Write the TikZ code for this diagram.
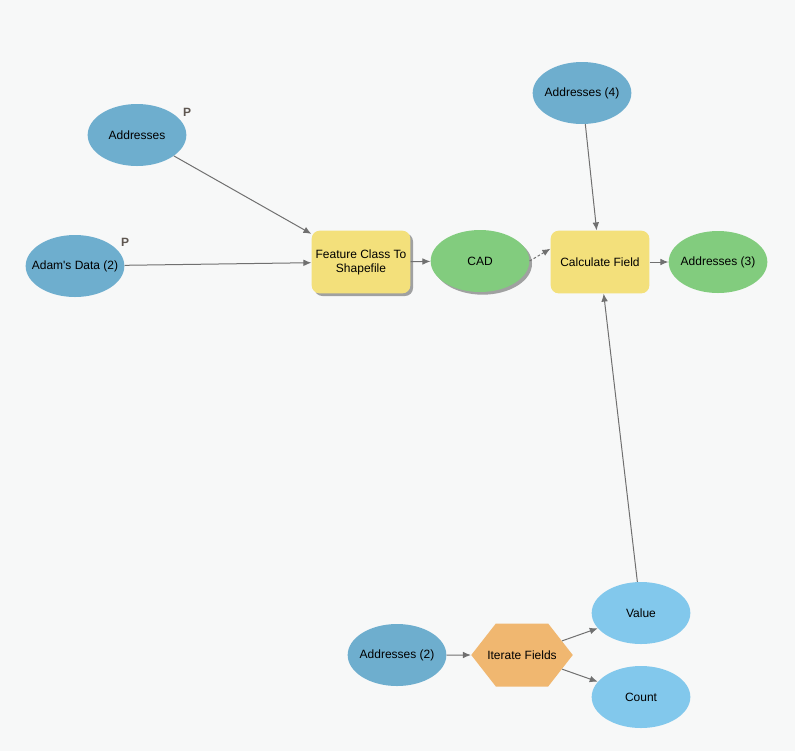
\documentclass[tikz,border=0pt]{standalone}
\usepackage{fontspec}
\setmainfont{Liberation Sans}[Ligatures=TeXOff]
\usetikzlibrary{arrows.meta,shapes.geometric,shapes.symbols,shadows}
\definecolor{bg}{HTML}{F7F8F8}
\definecolor{datablue}{HTML}{6EAECE}
\definecolor{varblue}{HTML}{82C8EC}
\definecolor{outgreen}{HTML}{82CC7E}
\definecolor{toolyellow}{HTML}{F3E07B}
\definecolor{iterorange}{HTML}{F0B770}
\definecolor{linegray}{HTML}{707070}
\definecolor{pgray}{HTML}{5E5650}
\begin{document}
\begin{tikzpicture}[x=0.75pt,y=-0.75pt,>={Latex[length=6pt,width=5pt]},
	font=\fontsize{9}{10.5}\selectfont,
	data/.style={ellipse,fill=#1,minimum width=74pt,minimum height=46.5pt,inner ysep=0pt,inner xsep=-8pt},
	tool/.style={rectangle,rounded corners=6pt,fill=toolyellow,minimum width=74pt,minimum height=47pt,inner sep=1pt,align=center},
	dropped/.style={drop shadow={shadow xshift=2pt,shadow yshift=-2pt,fill=black,opacity=0.35}},
	link/.style={->,draw=linegray,line width=0.75pt},
	plabel/.style={font=\fontsize{9}{10}\selectfont\bfseries,text=pgray}]
\fill[bg] (0,0) rectangle (795,751);
\useasboundingbox (0,0) rectangle (795,751);
\node[data=datablue] (addr) at (137,135) {Addresses};
\node[data=datablue] (adam) at (75,266) {Adam's Data (2)};
\node[tool,dropped] (fc) at (361,262) {Feature Class To\\Shapefile};
\node[data=outgreen,dropped] (cad) at (480,261) {CAD};
\node[tool] (calc) at (600,262) {Calculate Field};
\node[data=outgreen] (addr3) at (718,262) {Addresses (3)};
\node[data=datablue] (addr4) at (582,93) {Addresses (4)};
\node[data=datablue] (addr2) at (397,655) {Addresses (2)};
\node[signal,signal to=east and west,signal pointer angle=104,fill=iterorange,
	minimum width=60pt,minimum height=47.25pt,inner ysep=0pt,inner xsep=-6.4pt] (iter) at (522,655) {Iterate Fields};
\node[data=varblue] (value) at (641,613) {Value};
\node[data=varblue] (count) at (641,697) {Count};
\node[plabel] (paddr) at (187,112) {P};
\node[plabel] (padam) at (125,242) {P};
\draw[link] (addr) -- (fc);
\draw[link] (adam) -- (fc);
\draw[link] (fc) -- (cad);
\draw[link,dash pattern=on 2pt off 1.5pt] (cad.east) -- (calc.165);
\draw[link] (addr4) -- (calc);
\draw[link] (calc) -- (addr3);
\draw[link] (value) -- (calc);
\draw[link] (addr2) -- (iter);
\draw[link] (iter) -- (value);
\draw[link] (iter) -- (count);
\end{tikzpicture}
\end{document}
